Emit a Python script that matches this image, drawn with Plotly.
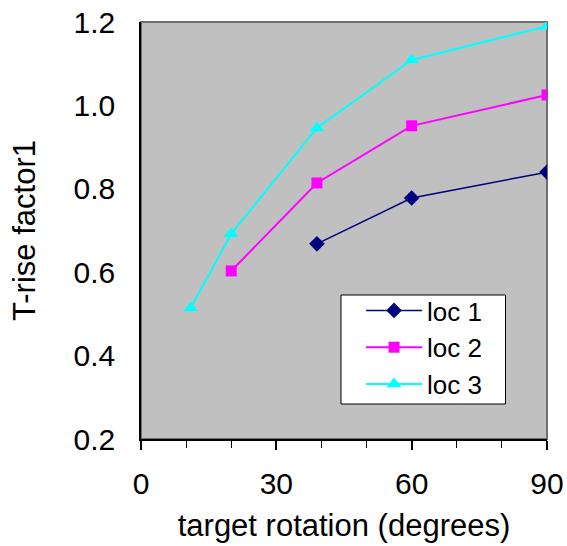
import plotly.graph_objects as go

# Temperature-rise factor versus target rotation at three locations
loc1_x = [39, 60, 90]
loc1_y = [0.668, 0.778, 0.840]
loc2_x = [20, 39, 60, 90]
loc2_y = [0.603, 0.814, 0.951, 1.025]
loc3_x = [11, 20, 39, 60, 90]
loc3_y = [0.514, 0.692, 0.946, 1.109, 1.190]

x_ticks = [0, 30, 60, 90]
y_ticks = [0.2, 0.4, 0.6, 0.8, 1.0, 1.2]

FONT = "Liberation Sans, Arial, sans-serif"

fig = go.Figure()
fig.add_trace(go.Scatter(
    x=loc1_x, y=loc1_y, name="loc 1", mode="lines+markers",
    line=dict(color="#000080", width=1.5),
    marker=dict(symbol="diamond", size=12, color="#000080"),
))
fig.add_trace(go.Scatter(
    x=loc2_x, y=loc2_y, name="loc 2", mode="lines+markers",
    line=dict(color="#FF00FF", width=2),
    marker=dict(symbol="square", size=11, color="#FF00FF"),
))
fig.add_trace(go.Scatter(
    x=loc3_x, y=loc3_y, name="loc 3", mode="lines+markers",
    line=dict(color="#00FFFF", width=2),
    marker=dict(symbol="triangle-up", size=13, color="#00FFFF"),
))

# grey frame around the plotting area
fig.add_shape(type="rect", xref="paper", yref="paper", x0=0, y0=0, x1=1, y1=1,
              line=dict(color="#707070", width=2), layer="below")
# white legend box
fig.add_shape(type="rect", xref="paper", yref="paper",
              x0=0.4926, x1=0.8978, y0=0.0839, y1=0.3453,
              fillcolor="white", line=dict(color="black", width=1), layer="above")

fig.update_layout(
    width=567, height=546,
    margin=dict(l=141, r=20, t=22, b=107),
    paper_bgcolor="white",
    plot_bgcolor="#C0C0C0",
    font=dict(family=FONT, size=30, color="black"),
    showlegend=True,
    legend=dict(
        x=0.542, y=0.3645, xanchor="left", yanchor="top",
        bgcolor="rgba(0,0,0,0)", borderwidth=0,
        font=dict(family=FONT, size=26, color="black"),
        itemwidth=56, tracegroupgap=0,
    ),
)
fig.update_xaxes(
    range=[0, 90], tickvals=x_ticks, showgrid=False, zeroline=False,
    automargin=False,
    showline=True, linecolor="black", linewidth=1.5,
    ticks="outside", ticklen=9, tickcolor="black", tickwidth=1.5,
    minor=dict(dtick=10, ticks="outside", ticklen=7, tickcolor="black", tickwidth=1),
    ticklabelstandoff=8,
    title=dict(text="target rotation (degrees)", standoff=16,
               font=dict(family=FONT, size=31)),
)
fig.update_yaxes(
    range=[0.2, 1.2], tickvals=y_ticks, tickformat=".1f",
    showgrid=False, zeroline=False, automargin=False,
    showline=True, linecolor="black", linewidth=1.5,
    ticks="", ticklabelstandoff=18,
    title=dict(text="T-rise factor1", standoff=29,
               font=dict(family=FONT, size=31)),
)

fig.write_html("out.html")
